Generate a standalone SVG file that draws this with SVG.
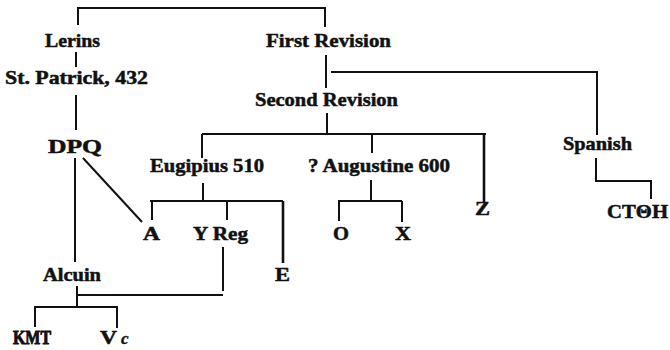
<svg xmlns="http://www.w3.org/2000/svg" width="670" height="350" viewBox="0 0 670 350">
<style>
  .t { font-family: "Liberation Serif", "DejaVu Serif", serif; font-weight: bold; font-size: 19px; fill: #111; stroke: #111; stroke-width: 0.5; }
  .i { font-family: "Liberation Serif", "DejaVu Serif", serif; font-style: italic; font-weight: bold; font-size: 17px; fill: #111; stroke: #111; stroke-width: 0.4; }
  .c path { fill: none; stroke: #111; stroke-width: 2; }
  .c path.k { stroke-width: 2.6; }
</style>
<rect width="670" height="350" fill="#fff"/>
<g class="c" id="connectors">
  <path d="M78,25 V8 H325 V27"/>
  <path d="M76,52 V67"/>
  <path d="M76,95 V130"/>
  <path d="M75,158 V262"/>
  <path d="M83,158 L142,222"/>
  <path d="M326,55 V88"/>
  <path d="M331,72 H597 V135"/>
  <path d="M327,113 V134"/>
  <path d="M202,134 H486"/>
  <path d="M202,134 V158"/>
  <path d="M372,134 V153"/>
  <path class="k" d="M484,134 V203"/>
  <path d="M203,183 V200"/>
  <path d="M150,201 H283"/>
  <path d="M152,201 V220"/>
  <path d="M227,201 V220"/>
  <path class="k" d="M283,201 V263"/>
  <path d="M371,180 V200"/>
  <path d="M338,201 H402"/>
  <path d="M339,201 V221"/>
  <path d="M402,201 V222"/>
  <path d="M596,158 V181 H651 V199"/>
  <path d="M223,247 V291"/>
  <path d="M78,295 H223"/>
  <path d="M77,286 V307"/>
  <path d="M35,327 V307 H117 V328"/>
</g>
<g id="lerins"><text class="t" x="45" y="47" textLength="55" lengthAdjust="spacingAndGlyphs">Lerins</text></g>
<g id="first-revision"><text class="t" x="266" y="47" textLength="125" lengthAdjust="spacingAndGlyphs">First Revision</text></g>
<g id="st-patrick"><text class="t" x="5" y="84" textLength="143" lengthAdjust="spacingAndGlyphs">St. Patrick, 432</text></g>
<g id="second-revision"><text class="t" x="255" y="106" textLength="143" lengthAdjust="spacingAndGlyphs">Second Revision</text></g>
<g id="dpq"><text class="t" x="48" y="153" textLength="54" lengthAdjust="spacingAndGlyphs">DPQ</text></g>
<g id="spanish"><text class="t" x="563" y="150" textLength="69" lengthAdjust="spacingAndGlyphs">Spanish</text></g>
<g id="eugipius"><text class="t" x="150" y="172" textLength="114" lengthAdjust="spacingAndGlyphs">Eugipius 510</text></g>
<g id="augustine"><text class="t" x="308" y="172" textLength="142" lengthAdjust="spacingAndGlyphs">? Augustine 600</text></g>
<g id="z"><text class="t" x="475" y="215" textLength="15" lengthAdjust="spacingAndGlyphs">Z</text></g>
<g id="ctoh"><text class="t" x="607" y="218" textLength="61" lengthAdjust="spacingAndGlyphs">CTΘH</text></g>
<g id="a"><text class="t" x="143" y="240" textLength="17" lengthAdjust="spacingAndGlyphs">A</text></g>
<g id="y-reg"><text class="t" x="193" y="240" textLength="55" lengthAdjust="spacingAndGlyphs">Y Reg</text></g>
<g id="o"><text class="t" x="333" y="240" textLength="16" lengthAdjust="spacingAndGlyphs">O</text></g>
<g id="x"><text class="t" x="395" y="240" textLength="16" lengthAdjust="spacingAndGlyphs">X</text></g>
<g id="e"><text class="t" x="275" y="281" textLength="15" lengthAdjust="spacingAndGlyphs">E</text></g>
<g id="alcuin"><text class="t" x="43" y="281" textLength="58" lengthAdjust="spacingAndGlyphs">Alcuin</text></g>
<g id="kmt"><text class="t" x="13" y="344" textLength="38" lengthAdjust="spacingAndGlyphs" style="stroke-width:0.9">KMT</text></g>
<g id="vc"><text class="t" x="100" y="344" textLength="17" lengthAdjust="spacingAndGlyphs">V</text><text class="i" x="121" y="344">c</text></g>
</svg>
